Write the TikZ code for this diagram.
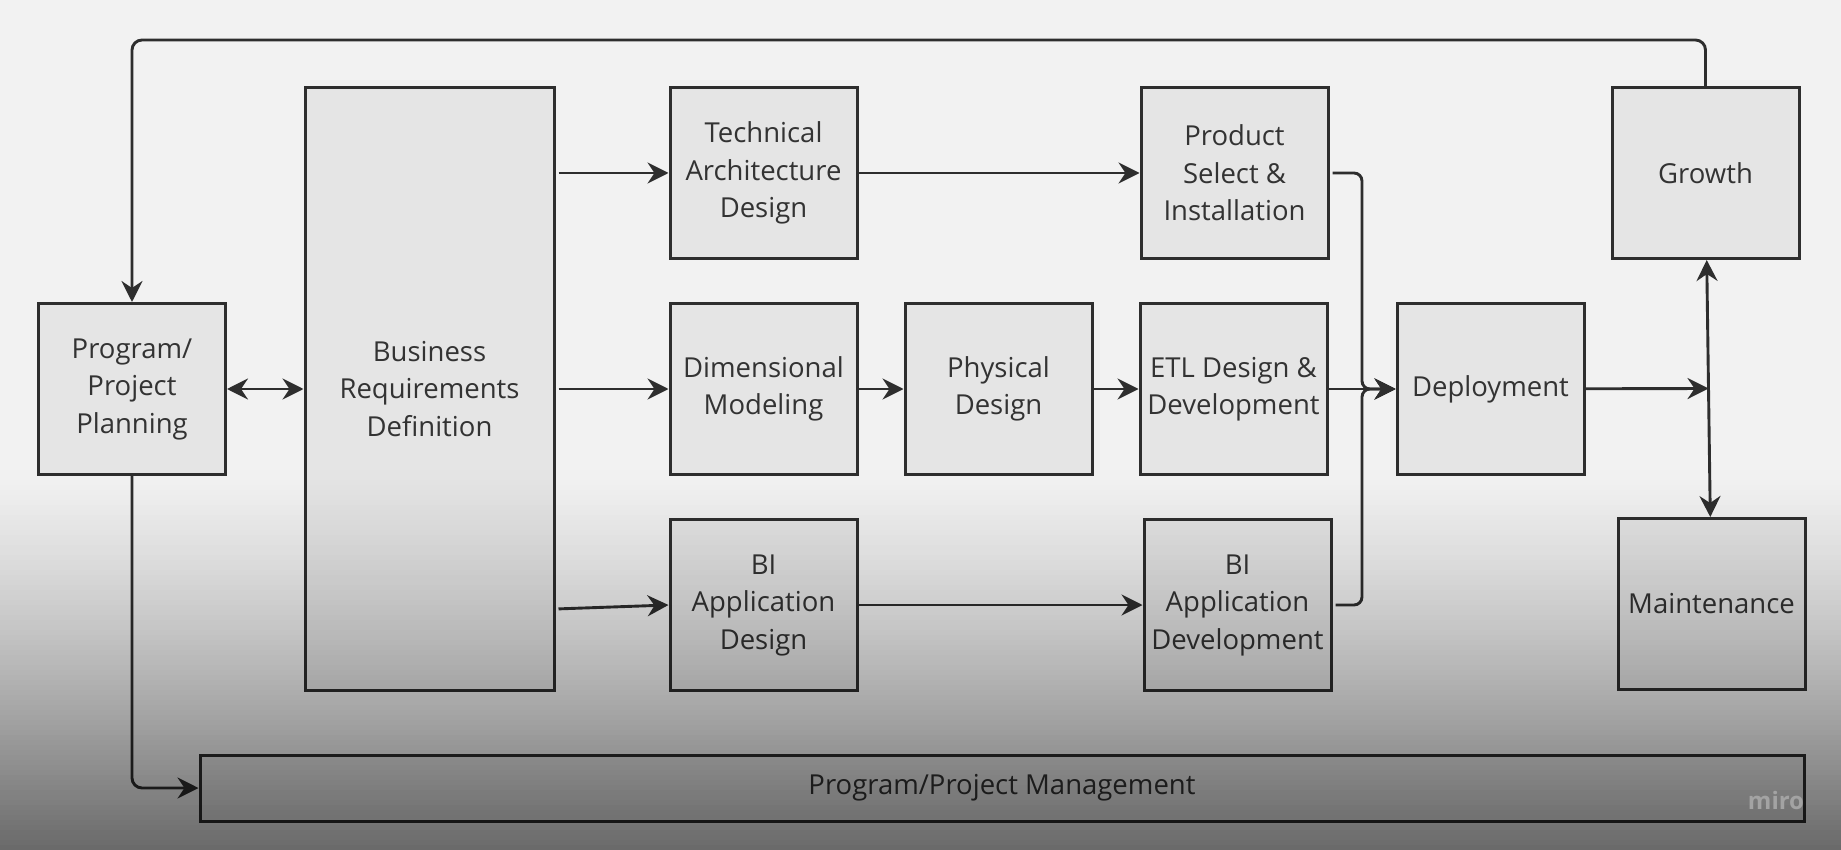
\documentclass[tikz,border=0pt]{standalone}
\usepackage{fontspec}
\setmainfont{Open Sans}
\usetikzlibrary{positioning, arrows.meta, calc}

\definecolor{bggray}{HTML}{F2F2F2}
\definecolor{boxgray}{HTML}{E5E5E5}
\definecolor{linegray}{HTML}{2E2E2E}
\definecolor{textgray}{HTML}{333333}

\begin{document}
\begin{tikzpicture}
    [
        x=1pt, y=1pt, node distance=216pt and 235pt, on grid,
        font=\fontsize{27.5}{37.5}\selectfont,
        stage_node/.style={rectangle, draw=linegray, fill=boxgray, line width=3pt, minimum width=187pt, minimum height=171pt, inner sep=0pt, align=center, text=textgray},
        flow_line/.style={-{Stealth[length=21pt, width=21pt, inset=7pt]}, line width=2.9pt, color=linegray},
        both_line/.style={{Stealth[length=21pt, width=21pt, inset=7pt]}-{Stealth[length=21pt, width=21pt, inset=7pt]}, line width=2.9pt, color=linegray},
    ]
        \fill[bggray] (0,0) rectangle (1841,-850) ;
        \useasboundingbox (0,0) rectangle (1841,-850) ;
        % middle row
        \node[stage_node] (dim) at (763.5,-389) {Dimensional\\Modeling} ;
        \node[stage_node] (phys) [right = of dim] {Physical\\Design} ;
        \node[stage_node] (etl) [right = of phys] {ETL Design \&\\Development} ;
        \node[stage_node] (deploy) [right = 257pt of etl] {Deployment} ;
        % top and bottom rows
        \node[stage_node] (tech) [above = of dim] {Technical\\Architecture\\Design} ;
        \node[stage_node] (bides) [below = of dim] {BI\\Application\\Design} ;
        \node[stage_node] (prod) [above = of etl, xshift=1pt] {Product\\Select \&\\Installation} ;
        \node[stage_node] (bidev) [below = of etl, xshift=4pt] {BI\\Application\\Development} ;
        \node[stage_node] (growth) [above right = 216pt and 215pt of deploy] {Growth} ;
        \node[stage_node] (maint) [below right = 215pt and 221pt of deploy] {Maintenance} ;
        % left side
        \node[stage_node] (plan) [left = 631.5pt of dim] {Program/\\Project\\Planning} ;
        \node[stage_node, minimum width=249pt, minimum height=602pt] (brd) [left = 334pt of dim] {Business\\Requirements\\Definition} ;
        \node[stage_node, minimum width=1604pt, minimum height=66pt] (mgmt) at (1002,-788) {Program/Project Management} ;
        \coordinate (join) at ($(etl.east)!0.5!(deploy.west)$) ;
        \coordinate (hub) at ($(growth.south)!0.5!(maint.north)$) ;
        \draw[flow_line, rounded corners=10pt] (growth.north) -- ++(0,46) -| (plan.north) ;
        \draw[both_line] (plan) -- (brd) ;
        \draw[flow_line, shorten <=3pt] (brd.east |- tech.west) -- (tech.west) ;
        \draw[flow_line, shorten <=3pt] (brd.east |- dim.west) -- (dim.west) ;
        \draw[flow_line, shorten <=3pt] ($(brd.east |- bides.west)+(0,-4)$) -- (bides.west) ;
        \draw[flow_line] (tech) -- (prod) ;
        \draw[flow_line] (dim) -- (phys) ;
        \draw[flow_line] (phys) -- (etl) ;
        \draw[flow_line] (etl) -- (deploy) ;
        \draw[flow_line] (bides) -- (bidev) ;
        \draw[flow_line, rounded corners=8pt, shorten <=3pt] (prod.east) -| (join) -- (deploy.west) ;
        \draw[flow_line, rounded corners=8pt, shorten <=3pt] (bidev.east) -| (join) -- (deploy.west) ;
        \draw[both_line] (growth) -- (maint) ;
        \draw[flow_line] (deploy) -- (hub) ;
        \draw[flow_line, rounded corners=10pt] (plan.south) |- (mgmt.west) ;
        % darker lower part
        \foreach \k in {0,...,76}
            \fill[black, opacity={0.56*((\k+0.01)/76.01)^1.3}] (0,-465-5*\k) rectangle (1841,-470-5*\k) ;
        \node[text=gray!72, font=\fontsize{24}{24}\selectfont\bfseries] (miro) at (1776,-800) {miro} ;
    \end{tikzpicture}
\end{document}
